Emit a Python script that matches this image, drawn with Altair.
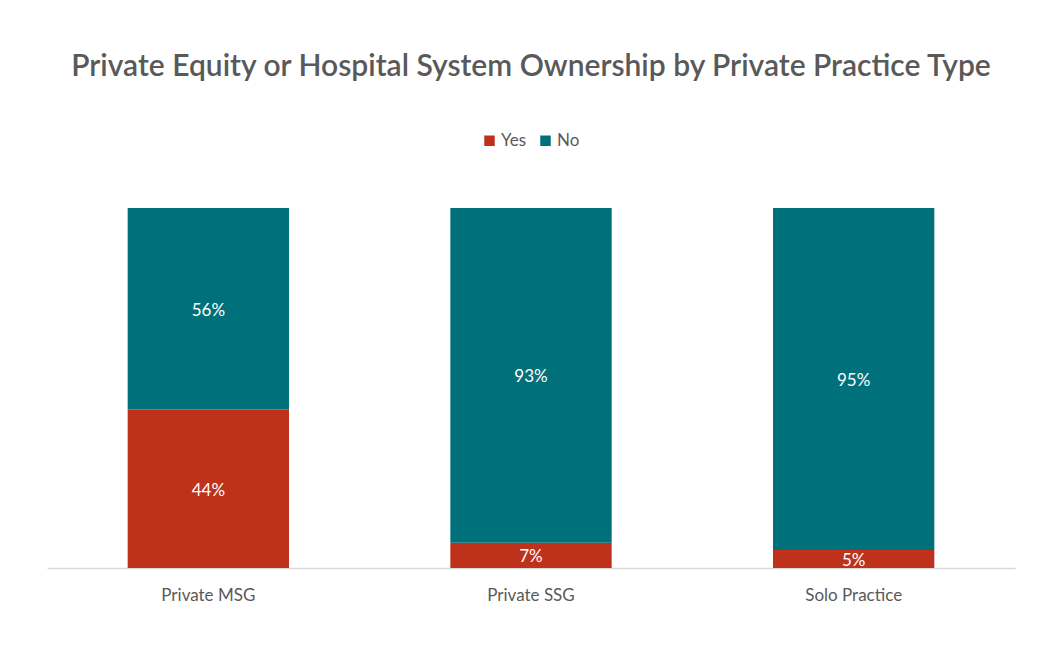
import altair as alt
import pandas as pd

categories = ["Private MSG", "Private SSG", "Solo Practice"]
yes_vals = [44, 7, 5]
no_vals = [56, 93, 95]
series = ["Yes", "No"]
colors = ["#BE311B", "#00717A"]

rows = []
for c, y, n in zip(categories, yes_vals, no_vals):
    rows.append({"cat": c, "series": "Yes", "value": y, "ord": 0})
    rows.append({"cat": c, "series": "No", "value": n, "ord": 1})
df = pd.DataFrame(rows)

FONT = "Lato"

base = alt.Chart(df).encode(
    x=alt.X("cat:N", sort=categories, title=None,
            scale=alt.Scale(paddingInner=0.5, paddingOuter=0.25),
            axis=alt.Axis(labelAngle=0, ticks=False, domainColor="#D9D9D9", domainWidth=1.5,
                          labelFont=FONT, labelFontSize=17, labelColor="#595959", labelPadding=19)),
)

bars = base.mark_bar().encode(
    y=alt.Y("sum(value):Q", stack="zero", scale=alt.Scale(domain=[0, 100]), axis=None),
    color=alt.Color("series:N", sort=series,
                    scale=alt.Scale(domain=series, range=colors),
                    legend=alt.Legend(title=None, orient="none", direction="horizontal",
                                      legendX=434, legendY=-76, symbolType="square",
                                      symbolSize=110, labelFont=FONT, labelFontSize=17,
                                      labelColor="#595959", columnPadding=10, labelOffset=3)),
    order=alt.Order("ord:Q"),
)

labels = base.mark_text(color="white", font=FONT, fontSize=17, baseline="middle", dy=2).encode(
    y=alt.Y("mid:Q", scale=alt.Scale(domain=[0, 100])),
    text=alt.Text("label:N"),
).transform_calculate(
    label="datum.value + '%'"
).transform_stack(
    stack="value", groupby=["cat"], sort=[alt.SortField("ord")], as_=["lo", "hi"]
).transform_calculate(
    mid="(datum.lo + datum.hi) / 2"
)

chart = (bars + labels).properties(
    width=968, height=360,
    padding={"left": 39, "top": 200, "right": 34, "bottom": 70},
    autosize=alt.AutoSizeParams(type="none"),
    title=alt.TitleParams("Private Equity or Hospital System Ownership by Private Practice Type",
                          font=FONT, fontSize=30, fontWeight=600, color="#595959",
                          anchor="middle", offset=26, baseline="alphabetic"),
).configure_view(stroke=None)

chart.save("out.html", embed_options={"renderer": "svg", "actions": False})
